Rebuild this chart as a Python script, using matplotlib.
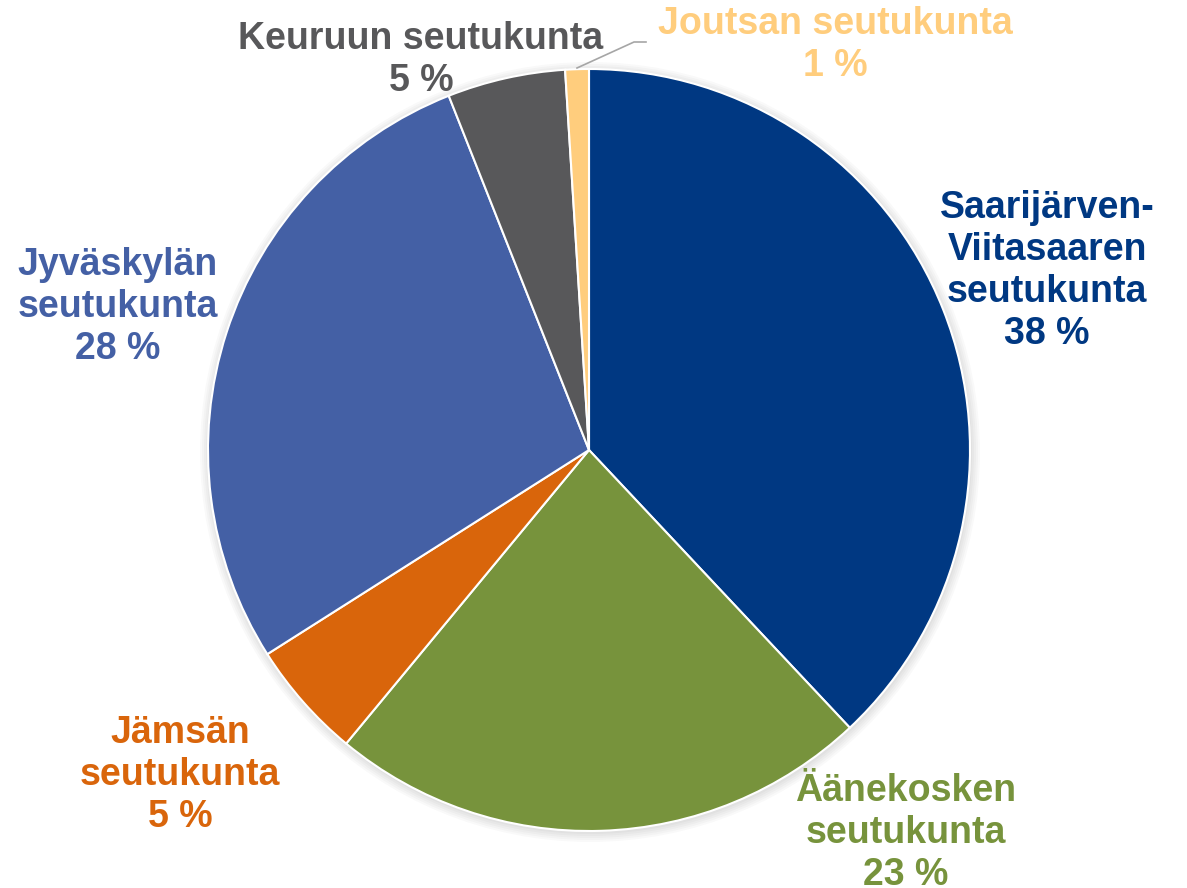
import matplotlib
matplotlib.use("Agg")
import matplotlib.pyplot as plt
from matplotlib.patches import Circle

names = ["Saarijärven-\nViitasaaren\nseutukunta", "Äänekosken\nseutukunta", "Jämsän\nseutukunta",
         "Jyväskylän\nseutukunta", "Keuruun seutukunta", "Joutsan seutukunta"]
values = [38, 23, 5, 28, 5, 1]
colors = ["#003882", "#77933C", "#D9650B", "#4460A5", "#58585A", "#FFCD7D"]
# label centre positions in pixel coords (x, y from top)
label_pos = [(1047, 271), (906, 833), (180, 775), (118, 307), (421, 60), (835, 45)]

W, H = 1187, 888
fig = plt.figure(figsize=(W / 100, H / 100), dpi=100)
ax = fig.add_axes([0, 0, 1, 1])
ax.set_xlim(0, W)
ax.set_ylim(0, H)
ax.axis("off")

cx, cy, r = 589, H - 450, 381

# soft shadow
for i in range(5):
    ax.add_patch(Circle((cx + 1, cy - 2), r + 1 + i * 2, color="black", alpha=0.022, lw=0, zorder=0))

wedges, _ = ax.pie(values, colors=colors, startangle=90, counterclock=False,
                   center=(cx, cy), radius=r, frame=True,
                   wedgeprops=dict(edgecolor="white", linewidth=1.5))
ax.set_xlim(0, W)
ax.set_ylim(0, H)
ax.axis("off")
ax.set_aspect("equal")

for name, v, col, (px, py) in zip(names, values, colors, label_pos):
    ax.text(px, H - py, f"{name}\n{v} %", ha="center", va="center", color=col,
            fontsize=27, fontweight="bold", family="Liberation Sans", linespacing=1.22)

# leader line for Joutsan
ax.plot([577, 634, 646], [H - 68, H - 42, H - 42], color="#A6A6A6", lw=1.2)

fig.savefig("out.png", dpi=100)
